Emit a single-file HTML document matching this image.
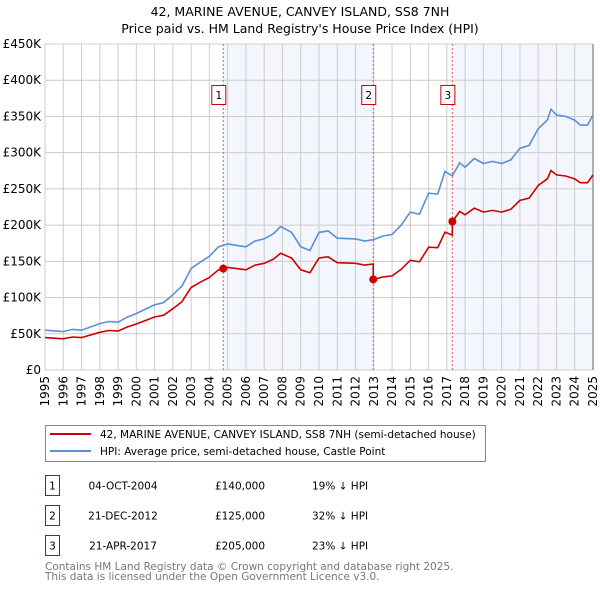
<!DOCTYPE html>
<html><head><meta charset="utf-8"><style>
body{margin:0;background:#fff;font-family:"DejaVu Sans","Liberation Sans",sans-serif}
svg{display:block}
</style></head><body>
<svg id="c" width="600" height="590" xmlns="http://www.w3.org/2000/svg" font-family="DejaVu Sans, Liberation Sans, sans-serif">
<text x="300" y="16" text-anchor="middle" font-size="12.5">42, MARINE AVENUE, CANVEY ISLAND, SS8 7NH</text>
<text x="300" y="33" text-anchor="middle" font-size="12.5">Price paid vs. HM Land Registry's House Price Index (HPI)</text>
<g id="plot"></g>
<g>
<rect x="45.5" y="425.5" width="440" height="36" fill="#fff" stroke="#888"/>
<line x1="50" y1="434" x2="91" y2="434" stroke="#cc0000" stroke-width="2"/>
<text x="100" y="438" font-size="10.5">42, MARINE AVENUE, CANVEY ISLAND, SS8 7NH (semi-detached house)</text>
<line x1="50" y1="451" x2="91" y2="451" stroke="#5b8fd6" stroke-width="2"/>
<text x="100" y="455" font-size="10.5">HPI: Average price, semi-detached house, Castle Point</text>
</g>
<g id="table" font-size="10.5"></g>
<text x="45" y="570" font-size="10.5" fill="#777">Contains HM Land Registry data © Crown copyright and database right 2025.</text>
<text x="45" y="580" font-size="10.5" fill="#777">This data is licensed under the Open Government Licence v3.0.</text>
</svg>
<script>
const hpiYears=[1995,1996,1996.5,1997,1998,1998.5,1999,1999.5,2000,2001,2001.5,2002,2002.5,2003,2003.5,2004,2004.5,2005,2005.5,2006,2006.5,2007,2007.5,2007.9,2008.5,2009,2009.5,2010,2010.5,2011,2012,2012.5,2013,2013.5,2014,2014.5,2015,2015.5,2016,2016.5,2016.9,2017.3,2017.7,2018,2018.5,2019,2019.5,2020,2020.5,2021,2021.5,2022,2022.5,2022.7,2023,2023.5,2024,2024.3,2024.7,2025];
const hpiValues=[55,53,56,55,64,67,66,73,78,90,93,104,116,140,149,157,170,174,172,170,178,181,188,198,190,170,165,190,192,182,181,178,180,185,187,200,218,215,244,243,274,268,286,280,292,285,288,285,290,306,310,333,345,360,352,350,345,338,338,352];
const saleLabels=["1","2","3"];
const saleDates=["04-OCT-2004","21-DEC-2012","21-APR-2017"];
const saleYears=[2004.76,2012.97,2017.3];
const salePrices=[140000,125000,205000];
const salePriceText=["£140,000","£125,000","£205,000"];
const saleHpiText=["19% ↓ HPI","32% ↓ HPI","23% ↓ HPI"];
const yTicks=[0,50,100,150,200,250,300,350,400,450];
const yTickLabels=["£0","£50K","£100K","£150K","£200K","£250K","£300K","£350K","£400K","£450K"];
const xTicks=[1995,1996,1997,1998,1999,2000,2001,2002,2003,2004,2005,2006,2007,2008,2009,2010,2011,2012,2013,2014,2015,2016,2017,2018,2019,2020,2021,2022,2023,2024,2025];

const NS="http://www.w3.org/2000/svg";
const L=45,R=593,T=44,B=370;
const xs=y=>L+(y-1995)/30*(R-L);
const ys=v=>B-v/450*(B-T);
function mk(tag,attrs,parent){const e=document.createElementNS(NS,tag);for(const k in attrs)e.setAttribute(k,attrs[k]);parent.appendChild(e);return e;}
function hpiAt(t){for(let i=1;i<hpiYears.length;i++){if(t<=hpiYears[i]){const f=(t-hpiYears[i-1])/(hpiYears[i]-hpiYears[i-1]);return hpiValues[i-1]+f*(hpiValues[i]-hpiValues[i-1]);}}return hpiValues[hpiValues.length-1];}
const plot=document.getElementById('plot');
// shading
let sh=mk('rect',{x:xs(saleYears[0]),y:T,width:xs(saleYears[1])-xs(saleYears[0]),height:B-T,fill:'#f3f6fd'},plot);


sh=mk('rect',{x:xs(saleYears[2]),y:T,width:R-xs(saleYears[2]),height:B-T,fill:'#f3f6fd'},plot);


// grid
yTicks.forEach((v,i)=>{
  const g=mk('line',{x1:L,x2:R,y1:ys(v),y2:ys(v),stroke:'#ccc','stroke-width':1},plot);
  
  
  const t=mk('text',{x:L-4,y:ys(v)+4,'text-anchor':'end','font-size':'12'},plot);
  t.textContent=yTickLabels[i];
  
  
});
xTicks.forEach(y=>{
  const g=mk('line',{x1:xs(y),x2:xs(y),y1:T,y2:B,stroke:'#ccc','stroke-width':1},plot);
  
  
  const t=mk('text',{x:0,y:0,'text-anchor':'end','font-size':'12',transform:`translate(${xs(y)+4},${B+6}) rotate(-90)`},plot);
  t.textContent=y;
  
  
});
const ax=mk('line',{x1:R,x2:R,y1:T,y2:B,stroke:'#666','stroke-width':1},plot);


// sale lines
saleYears.forEach((y,i)=>{
  const l=mk('line',{x1:xs(y),x2:xs(y),y1:T,y2:B,stroke:'#e06060','stroke-dasharray':'2,2','stroke-width':1},plot);
  
  
  const r=mk('rect',{x:xs(y)-11.5,y:85.5,width:14,height:19,fill:'#fff',stroke:'#cc0000'},plot);
  
  
  const t=mk('text',{x:xs(y)-4.5,y:99,'text-anchor':'middle','font-size':'10.5'},plot);
  t.textContent=saleLabels[i];
  
  
});
// hpi line
let d=hpiYears.map((y,i)=>(i?'L':'M')+xs(y).toFixed(1)+','+ys(hpiValues[i]).toFixed(1)).join('');
const hl=mk('path',{d:d,fill:'none',stroke:'#5b8fd6','stroke-width':1.6},plot);


// property line: hpi scaled from most recent sale
const pts=[];
const times=hpiYears.concat(saleYears.flatMap(s=>[s-0.001,s])).sort((a,b)=>a-b);
times.forEach(t=>{
  let k=0;for(let i=0;i<saleYears.length;i++)if(t>=saleYears[i])k=i;
  const v=hpiAt(t)*(salePrices[k]/1000)/hpiAt(saleYears[k]);
  pts.push([t,v]);
});
d=pts.map((p,i)=>(i?'L':'M')+xs(p[0]).toFixed(1)+','+ys(p[1]).toFixed(1)).join('');
const pl=mk('path',{d:d,fill:'none',stroke:'#cc0000','stroke-width':1.6},plot);


saleYears.forEach((y,i)=>{
  const c=mk('circle',{cx:xs(y),cy:ys(salePrices[i]/1000),r:4,fill:'#cc0000'},plot);
  
  
});
// table
const tb=document.getElementById('table');
saleLabels.forEach((s,i)=>{
  const y0=475.5+i*30;
  const r=mk('rect',{x:45.5,y:y0,width:14,height:20,fill:'#fff',stroke:'#cc0000'},tb);
  
  
  const vals=[[52.5,s,'middle'],[123,saleDates[i],'middle'],[240,salePriceText[i],'middle'],[312,saleHpiText[i],'start']];
  vals.forEach((v,j)=>{
    const t=mk('text',{x:v[0],y:y0+14,'text-anchor':v[2]},tb);
    t.textContent=v[1];
    
    
  });
});
</script>
</body></html>
